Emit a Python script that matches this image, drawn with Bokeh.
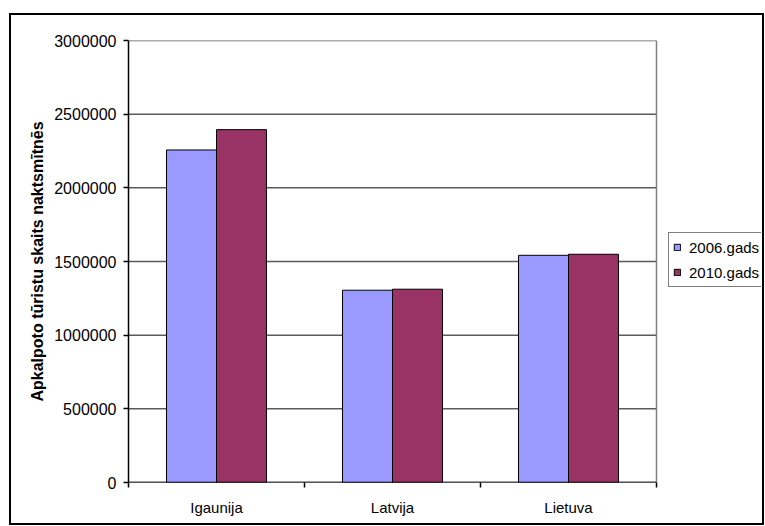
from bokeh.plotting import figure
from bokeh.models import (Range1d, FixedTicker, BasicTickFormatter, Legend, LegendItem,
                          ColumnDataSource)
from bokeh.embed import file_html
from bokeh.resources import INLINE

categories = ["Igaunija", "Latvija", "Lietuva"]
series_names = ["2006.gads", "2010.gads"]
values_2006 = [2257000, 1305000, 1542000]
values_2010 = [2395000, 1312000, 1549000]
colors = ["#9999FF", "#993366"]
y_ticks = [0, 500000, 1000000, 1500000, 2000000, 2500000, 3000000]

FONT = "Liberation Sans"
n = len(categories)
y_max = y_ticks[-1]

# frame spans to the right edge so the legend (outside the plot area) is not clipped;
# the plot area itself is drawn as 0..n in x
px_per_cat = 176.0
frame_w = 633.0
p = figure(width=755, height=512, output_backend="svg", toolbar_location=None,
           x_range=Range1d(0, frame_w / px_per_cat), y_range=Range1d(0, y_max),
           min_border_left=117, min_border_right=5, min_border_top=25,
           min_border_bottom=45)
p.margin = (13, 0, 0, 9)
p.styles = {"border": "2px solid black", "box-sizing": "border-box", "overflow": "hidden"}

p.outline_line_color = None
p.background_fill_color = "white"
p.border_fill_color = "white"

# gridlines over the plot area only
p.segment(x0=[0] * len(y_ticks), x1=[n] * len(y_ticks), y0=y_ticks, y1=y_ticks,
          line_color="#5a5a5a", line_width=1.5)
# plot area right border
p.segment(x0=[n], x1=[n], y0=[0], y1=[y_max], line_color="#808080", line_width=1.5)

bw = 0.284
offsets = [-bw / 2, bw / 2]
renderers = []
for vals, off, col in zip([values_2006, values_2010], offsets, colors):
    src = ColumnDataSource(dict(x=[i + 0.5 + off for i in range(n)], top=vals))
    r = p.vbar(x="x", top="top", width=bw, bottom=0, source=src, fill_color=col,
               line_color="black", line_width=1)
    renderers.append(r)

# x axis line over plot area only
p.segment(x0=[0], x1=[n], y0=[0], y1=[0], line_color="black", line_width=1.5)

# x axis
p.xaxis.ticker = FixedTicker(ticks=[i + 0.5 for i in range(n)],
                             minor_ticks=list(range(n + 1)))
p.xaxis.major_label_overrides = {i + 0.5: c for i, c in enumerate(categories)}
p.xaxis.major_tick_line_color = None
p.xaxis.major_tick_in = 0
p.xaxis.major_tick_out = 0
p.xaxis.minor_tick_in = 0
p.xaxis.minor_tick_out = 5
p.xaxis.minor_tick_line_color = "black"
p.xaxis.minor_tick_line_width = 1.5
p.xaxis.axis_line_color = None
p.xaxis.major_label_text_font = FONT
p.xaxis.major_label_text_font_size = "15px"
p.xaxis.major_label_text_color = "black"
p.xaxis.major_label_standoff = 11

# y axis
p.yaxis.ticker = FixedTicker(ticks=y_ticks)
p.yaxis.formatter = BasicTickFormatter(use_scientific=False)
p.yaxis.minor_tick_line_color = None
p.yaxis.major_tick_in = 0
p.yaxis.major_tick_out = 5
p.yaxis.major_tick_line_color = "black"
p.yaxis.major_tick_line_width = 1.5
p.yaxis.axis_line_color = "black"
p.yaxis.axis_line_width = 1.5
p.yaxis.major_label_text_font = FONT
p.yaxis.major_label_text_font_size = "16px"
p.yaxis.major_label_text_color = "black"
p.yaxis.major_label_standoff = 7
p.yaxis.axis_label = "Apkalpoto tūristu skaits naktsmītnēs"
p.yaxis.axis_label_text_font = FONT
p.yaxis.axis_label_text_font_size = "16px"
p.yaxis.axis_label_text_font_style = "bold"
p.yaxis.axis_label_text_color = "black"
p.yaxis.axis_label_standoff = 5

p.xgrid.grid_line_color = None
p.ygrid.grid_line_color = None

legend = Legend(items=[LegendItem(label=s, renderers=[r]) for s, r in zip(series_names, renderers)],
                location=(540, 195))
legend.border_line_color = "black"
legend.border_line_width = 1
legend.background_fill_color = "white"
legend.background_fill_alpha = 1
legend.label_text_font = FONT
legend.label_text_font_size = "15px"
legend.label_text_color = "black"
legend.glyph_width = 8
legend.glyph_height = 8
legend.label_height = 20
legend.padding = 4
legend.spacing = 5
legend.margin = 0
legend.label_standoff = 8
p.add_layout(legend, "center")

open("out.html", "w").write(file_html(p, INLINE))
